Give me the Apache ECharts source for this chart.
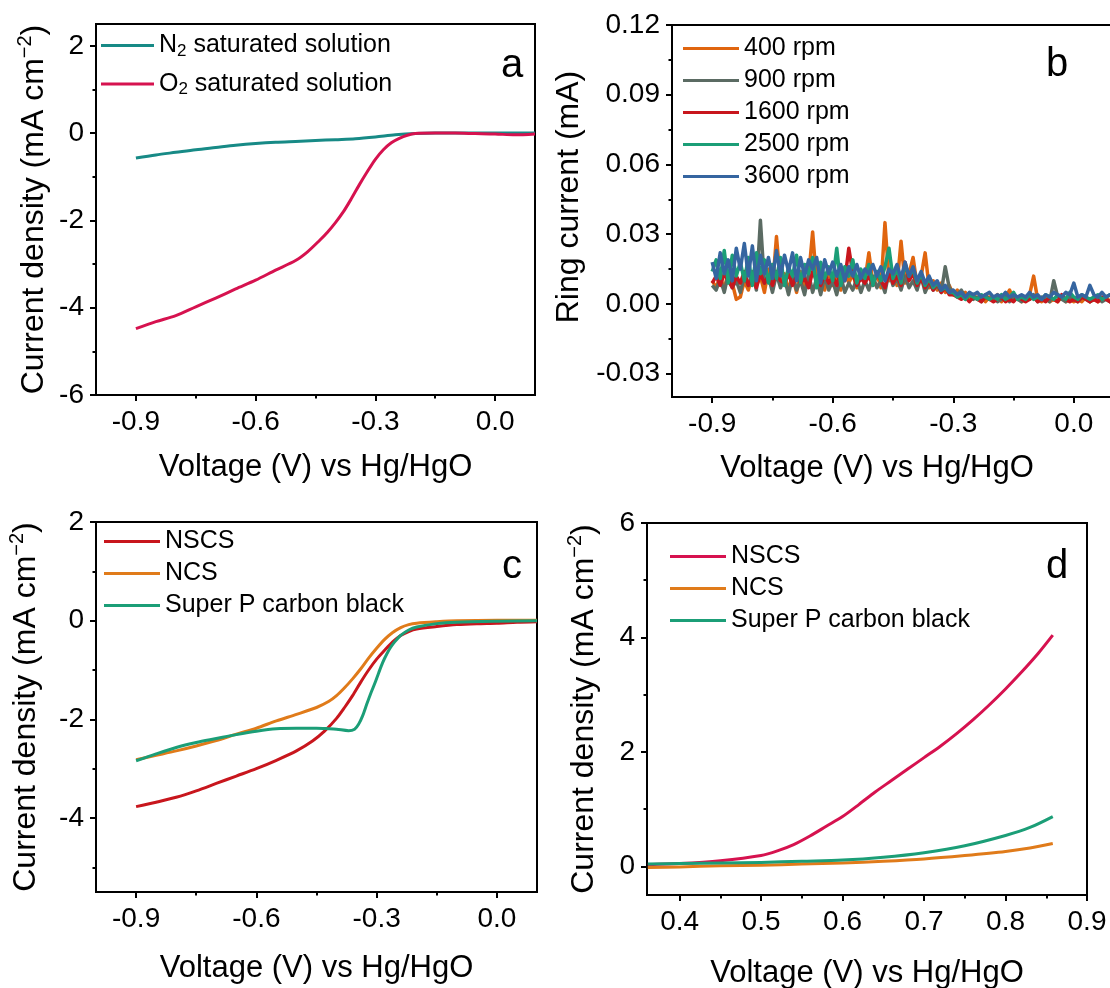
<!DOCTYPE html>
<html><head><meta charset="utf-8">
<script src="https://cdn.jsdelivr.net/npm/echarts@6/dist/echarts.min.js"></script>
<style>html,body{margin:0;padding:0;background:#fff}#c{width:1110px;height:988px}</style>
</head><body><div id="c"></div>
<script>
// ---------- Panel a ----------
const aN2X = [-0.9,-0.85,-0.8,-0.75,-0.7,-0.65,-0.6,-0.55,-0.5,-0.45,-0.4,-0.35,-0.3,-0.25,-0.2,-0.15,-0.1,-0.05,0,0.05,0.1];
const aN2Y = [-0.57,-0.5,-0.44,-0.38,-0.33,-0.28,-0.24,-0.21,-0.19,-0.17,-0.15,-0.13,-0.09,-0.04,-0.01,0,0,0,0,0,0];
const aO2X = [-0.9,-0.85,-0.8,-0.75,-0.7,-0.65,-0.6,-0.55,-0.5,-0.47,-0.44,-0.42,-0.4,-0.38,-0.36,-0.34,-0.32,-0.3,-0.28,-0.26,-0.24,-0.22,-0.2,-0.15,-0.1,-0.05,0,0.05,0.1];
const aO2Y = [-4.48,-4.32,-4.18,-3.98,-3.78,-3.57,-3.37,-3.14,-2.92,-2.72,-2.46,-2.27,-2.05,-1.8,-1.5,-1.18,-0.88,-0.6,-0.38,-0.22,-0.12,-0.05,-0.01,0,0,-0.01,-0.02,-0.04,-0.02];

// ---------- Panel b (ring current, mA) ----------
const bX = [-0.9,-0.89,-0.88,-0.87,-0.86,-0.85,-0.84,-0.83,-0.82,-0.81,
  -0.8,-0.79,-0.78,-0.77,-0.76,-0.75,-0.74,-0.73,-0.72,-0.71,
  -0.7,-0.69,-0.68,-0.67,-0.66,-0.65,-0.64,-0.63,-0.62,-0.61,
  -0.6,-0.59,-0.58,-0.57,-0.56,-0.55,-0.54,-0.53,-0.52,-0.51,
  -0.5,-0.49,-0.48,-0.47,-0.46,-0.45,-0.44,-0.43,-0.42,-0.41,
  -0.4,-0.39,-0.38,-0.37,-0.36,-0.35,-0.34,-0.33,-0.32,-0.31,
  -0.3,-0.29,-0.28,-0.27,-0.26,-0.25,-0.24,-0.23,-0.22,-0.21,
  -0.2,-0.19,-0.18,-0.17,-0.16,-0.15,-0.14,-0.13,-0.12,-0.11,
  -0.1,-0.09,-0.08,-0.07,-0.06,-0.05,-0.04,-0.03,-0.02,-0.01,
  0,0.01,0.02,0.03,0.04,0.05,0.06,0.07,0.08,0.09,0.1];
const b400 = [0.010,0.007,0.012,0.006,0.014,0.009,0.002,0.003,0.010,0.006,
  0.013,0.008,0.012,0.005,0.015,0.007,0.029,0.009,0.013,0.006,
  0.012,0.005,0.014,0.008,0.012,0.031,0.009,0.014,0.006,0.015,
  0.008,0.013,0.006,0.015,0.009,0.013,0.007,0.014,0.010,0.022,
  0.009,0.013,0.007,0.035,0.010,0.014,0.008,0.027,0.009,0.013,
  0.020,0.008,0.012,0.022,0.007,0.010,0.006,0.009,0.005,0.008,
  0.004,0.006,0.003,0.005,0.002,0.004,0.002,0.003,0.001,0.003,
  0.002,0.004,0.001,0.003,0.006,0.002,0.003,0.001,0.002,0.004,
  0.012,0.002,0.001,0.003,0.001,0.002,0.001,0.003,0.001,0.002,
  0.001,0.002,0.001,0.003,0.001,0.002,0.001,0.002,0.003,0.001,0.002];
const b900 = [0.008,0.006,0.011,0.005,0.013,0.007,0.010,0.005,0.012,0.008,
  0.014,0.006,0.036,0.009,0.012,0.005,0.013,0.007,0.011,0.004,
  0.012,0.006,0.010,0.004,0.013,0.005,0.011,0.004,0.012,0.006,
  0.010,0.004,0.012,0.005,0.009,0.006,0.011,0.005,0.010,0.006,
  0.012,0.007,0.010,0.005,0.014,0.008,0.011,0.006,0.012,0.007,
  0.010,0.006,0.012,0.005,0.009,0.006,0.008,0.005,0.016,0.007,
  0.005,0.004,0.006,0.003,0.004,0.002,0.003,0.001,0.004,0.002,
  0.003,0.001,0.002,0.004,0.001,0.003,0.002,0.001,0.003,0.002,
  0.004,0.001,0.003,0.002,0.001,0.010,0.003,0.002,0.001,0.003,
  0.002,0.001,0.003,0.002,0.001,0.002,0.003,0.001,0.002,0.001,0.002];
const b1600 = [0.009,0.012,0.008,0.013,0.010,0.007,0.012,0.009,0.014,0.008,
  0.011,0.007,0.013,0.009,0.012,0.008,0.014,0.010,0.009,0.013,
  0.008,0.012,0.009,0.011,0.007,0.014,0.010,0.008,0.013,0.009,
  0.012,0.008,0.014,0.010,0.024,0.013,0.008,0.011,0.009,0.012,
  0.008,0.013,0.010,0.007,0.014,0.009,0.012,0.008,0.018,0.010,
  0.013,0.008,0.011,0.007,0.010,0.006,0.009,0.005,0.007,0.004,
  0.004,0.003,0.002,0.003,0.001,0.003,0.002,0.001,0.003,0.002,
  0.001,0.002,0.003,0.001,0.002,0.001,0.003,0.002,0.001,0.002,
  0.003,0.001,0.002,0.001,0.003,0.002,0.001,0.004,0.002,0.001,
  0.002,0.001,0.003,0.002,0.001,0.002,0.001,0.003,0.002,0.001,0.002];
const b2500 = [0.014,0.019,0.011,0.023,0.009,0.021,0.012,0.018,0.010,0.020,
  0.008,0.022,0.013,0.019,0.009,0.017,0.011,0.020,0.008,0.016,
  0.012,0.021,0.009,0.017,0.013,0.020,0.007,0.018,0.011,0.016,
  0.010,0.024,0.008,0.016,0.012,0.019,0.009,0.015,0.011,0.017,
  0.008,0.014,0.010,0.016,0.024,0.011,0.015,0.009,0.017,0.012,
  0.015,0.009,0.013,0.008,0.011,0.007,0.009,0.006,0.007,0.005,
  0.005,0.003,0.004,0.002,0.004,0.003,0.002,0.004,0.003,0.002,
  0.003,0.002,0.004,0.002,0.003,0.005,0.002,0.003,0.002,0.004,
  0.002,0.003,0.002,0.004,0.003,0.002,0.004,0.003,0.002,0.005,
  0.003,0.002,0.004,0.003,0.002,0.003,0.004,0.002,0.003,0.004,0.002];
const b3600 = [0.018,0.011,0.022,0.013,0.019,0.010,0.024,0.015,0.026,0.012,
  0.025,0.010,0.021,0.013,0.020,0.011,0.023,0.012,0.021,0.014,
  0.022,0.010,0.020,0.012,0.019,0.015,0.020,0.009,0.019,0.013,
  0.018,0.012,0.017,0.010,0.016,0.012,0.017,0.011,0.015,0.013,
  0.017,0.012,0.016,0.010,0.015,0.013,0.017,0.011,0.018,0.012,
  0.016,0.010,0.014,0.009,0.012,0.008,0.010,0.006,0.008,0.005,
  0.006,0.004,0.005,0.003,0.005,0.004,0.005,0.003,0.004,0.005,
  0.003,0.004,0.003,0.005,0.003,0.004,0.003,0.004,0.003,0.005,
  0.003,0.004,0.002,0.004,0.003,0.005,0.004,0.003,0.005,0.004,
  0.009,0.003,0.004,0.003,0.008,0.004,0.003,0.005,0.003,0.004,0.003];

// ---------- Panel c ----------
const cNSCSX = [-0.9,-0.85,-0.8,-0.75,-0.7,-0.65,-0.6,-0.55,-0.5,-0.46,-0.43,-0.4,-0.38,-0.36,-0.34,-0.32,-0.3,-0.28,-0.26,-0.24,-0.22,-0.2,-0.15,-0.1,-0.05,0,0.05,0.1];
const cNSCSY = [-3.77,-3.68,-3.58,-3.45,-3.3,-3.15,-3.0,-2.83,-2.64,-2.44,-2.24,-1.98,-1.76,-1.52,-1.25,-1.0,-0.78,-0.6,-0.43,-0.3,-0.22,-0.17,-0.12,-0.08,-0.06,-0.05,-0.03,-0.02];
const cNCSX = [-0.9,-0.85,-0.8,-0.75,-0.7,-0.65,-0.6,-0.55,-0.5,-0.45,-0.42,-0.4,-0.38,-0.36,-0.34,-0.32,-0.3,-0.28,-0.26,-0.24,-0.22,-0.2,-0.15,-0.1,0,0.1];
const cNCSY = [-2.82,-2.73,-2.64,-2.54,-2.43,-2.3,-2.18,-2.03,-1.9,-1.76,-1.64,-1.52,-1.36,-1.18,-0.98,-0.76,-0.56,-0.38,-0.24,-0.14,-0.08,-0.05,-0.02,0,0.01,0.01];
const cSPX = [-0.9,-0.85,-0.8,-0.75,-0.7,-0.65,-0.6,-0.55,-0.5,-0.45,-0.42,-0.4,-0.37,-0.355,-0.345,-0.335,-0.325,-0.315,-0.305,-0.295,-0.285,-0.275,-0.265,-0.255,-0.24,-0.22,-0.2,-0.15,-0.1,0,0.1];
const cSPY = [-2.84,-2.7,-2.57,-2.47,-2.39,-2.31,-2.24,-2.19,-2.18,-2.18,-2.19,-2.2,-2.23,-2.2,-2.1,-1.93,-1.7,-1.48,-1.28,-1.06,-0.85,-0.68,-0.54,-0.43,-0.3,-0.19,-0.13,-0.06,-0.03,-0.01,0];

// ---------- Panel d ----------
const dNSCSX = [0.361,0.4,0.45,0.5,0.52,0.54,0.56,0.58,0.6,0.62,0.64,0.66,0.68,0.7,0.72,0.74,0.76,0.78,0.8,0.82,0.84,0.858];
const dNSCSY = [0.03,0.05,0.1,0.19,0.27,0.38,0.53,0.7,0.87,1.08,1.3,1.5,1.7,1.9,2.1,2.32,2.56,2.82,3.1,3.4,3.72,4.04];
const dNCSX = [0.361,0.4,0.45,0.5,0.55,0.6,0.65,0.7,0.75,0.8,0.83,0.858];
const dNCSY = [-0.02,-0.01,0.01,0.02,0.04,0.06,0.09,0.13,0.19,0.26,0.32,0.4];
const dSPX = [0.361,0.4,0.45,0.5,0.55,0.6,0.65,0.7,0.75,0.8,0.83,0.858];
const dSPY = [0.04,0.05,0.06,0.07,0.09,0.11,0.16,0.24,0.36,0.54,0.68,0.87];

// ---------- Tick labels ----------
const xTicksV = [-0.9,-0.6,-0.3,0];
const xMinorV = [-0.75,-0.45,-0.15];
const xTicksD = [0.4,0.5,0.6,0.7,0.8,0.9];
const xMinorD = [0.45,0.55,0.65,0.75,0.85];
const yTicksA = [-6,-4,-2,0,2];
const yMinorA = [-5,-3,-1,1];
const yTicksB = [-0.03,0,0.03,0.06,0.09,0.12];
const yMinorB = [-0.015,0.015,0.045,0.075,0.105];
const yTicksC = [-4,-2,0,2];
const yMinorC = [-5,-3,-1,1];
const yTicksD = [0,2,4,6];
const yMinorD = [1,3,5];

const FONT = '"Liberation Sans", Arial, Helvetica, sans-serif';
const zip = (xs, ys) => xs.map((x, i) => [x, ys[i]]);

function xAxisMain(g, min, max, ticks, fmt, gap, pad) {
  return {type:'value', gridIndex:g, min:min, max:max, position:'bottom',
    axisLine:{show:true, onZero:false, lineStyle:{color:'#000', width:2}},
    axisTick:{show:true, inside:false, length:6, lineStyle:{color:'#000', width:2}, customValues:ticks},
    axisLabel:{show:true, customValues:ticks, formatter:fmt, color:'#000', fontSize:28, fontFamily:FONT, margin:13},
    splitLine:{show:false}, minorTick:{show:false},
    name:'Voltage (V) vs Hg/HgO', nameLocation:'middle', nameGap:gap, nameMoveOverlap:false,
    nameTextStyle:{color:'#000', fontSize:31, fontFamily:FONT, padding:pad || 0}};
}
function yAxisMain(g, min, max, ticks, fmt, name, gap, pad) {
  return {type:'value', gridIndex:g, min:min, max:max, position:'left',
    axisLine:{show:true, onZero:false, lineStyle:{color:'#000', width:2}},
    axisTick:{show:true, inside:false, length:6, lineStyle:{color:'#000', width:2}, customValues:ticks},
    axisLabel:{show:true, customValues:ticks, formatter:fmt, color:'#000', fontSize:28, fontFamily:FONT, margin:12},
    splitLine:{show:false}, minorTick:{show:false},
    name:name, nameLocation:'middle', nameGap:gap, nameMoveOverlap:false,
    nameTextStyle:{color:'#000', fontSize:32, fontFamily:FONT, padding:pad || 0,
      rich:{t:{fontSize:32, fontFamily:FONT, color:'#000', lineHeight:38},
            s:{fontSize:20, fontFamily:FONT, color:'#000', lineHeight:23, verticalAlign:'top'}}}};
}
function minorAxis(g, min, max, ticks, pos) {
  return {type:'value', gridIndex:g, min:min, max:max, position:pos,
    axisLine:{show:false, onZero:false},
    axisTick:{show:true, inside:false, length:3.5, lineStyle:{color:'#000', width:2}, customValues:ticks},
    axisLabel:{show:false}, splitLine:{show:false}};
}
const fx = v => Number(v).toFixed(1);
const fi = v => String(Math.round(v));
const f2 = v => Number(v).toFixed(2);
const yNameCD = '{t|Current density (mA cm}{s|−2}{t|)}';

function line(name, xi, xs, ys, color, smooth, w) {
  return {type:'line', name:name, xAxisIndex:xi, yAxisIndex:xi, data:zip(xs, ys),
    showSymbol:false, symbol:'none', smooth:smooth, clip:true, animation:false,
    lineStyle:{color:color, width:w || 3, join:'round'}, itemStyle:{color:color}};
}
const gridBase = {show:true, borderColor:'#000', borderWidth:2, containLabel:false, outerBoundsMode:'none', backgroundColor:'transparent'};

const C = {
  n2:'#178a86', o2:'#d6124f',
  r400:'#e0650f', r900:'#5b6b63', r1600:'#c8161d', r2500:'#1b9e77', r3600:'#3565a0',
  nscsC:'#c8161d', ncs:'#e07b1a', sp:'#1b9e77', nscsD:'#d6124f'
};

const legendText = {
  'a-N2':'{t|N}{sub|2}{t| saturated solution}',
  'a-O2':'{t|O}{sub|2}{t| saturated solution}'
};
function legendFmt(name) {
  if (legendText[name]) return legendText[name];
  return '{t|' + name.replace(/^[a-d]-/, '') + '}';
}
function legendRich(fs, lh) {
  return {t:{fontSize:fs, fontFamily:FONT, color:'#000', lineHeight:lh},
          sub:{fontSize:17, fontFamily:FONT, color:'#000', lineHeight:14, verticalAlign:'bottom'}};
}
function legend(names, left, top, gap, itemW, lh) {
  return {orient:'vertical', left:left, top:top, itemGap:gap, padding:0, icon:'rect',
    itemWidth:itemW, itemHeight:3, data:names, formatter:legendFmt, selectedMode:false,
    textStyle:{fontSize:25, fontFamily:FONT, color:'#000', rich:legendRich(25, lh)}};
}

const option = {
  animation:false,
  backgroundColor:'#fff',
  grid:[
    Object.assign({left:96, top:24, width:439, height:371}, gridBase),
    Object.assign({left:672, top:25, width:442, height:372}, gridBase),
    Object.assign({left:96, top:522, width:441, height:370}, gridBase),
    Object.assign({left:647, top:523, width:440, height:372}, gridBase)
  ],
  xAxis:[
    xAxisMain(0, -1.0, 0.1, xTicksV, fx, 57),
    xAxisMain(1, -1.0, 0.1, xTicksV, fx, 56, [0, 32, 0, 0]),
    xAxisMain(2, -1.0, 0.1, xTicksV, fx, 61),
    xAxisMain(3, 0.36, 0.9, xTicksD, fx, 63),
    minorAxis(0, -1.0, 0.1, xMinorV, 'bottom'),
    minorAxis(1, -1.0, 0.1, xMinorV, 'bottom'),
    minorAxis(2, -1.0, 0.1, xMinorV, 'bottom'),
    minorAxis(3, 0.36, 0.9, xMinorD, 'bottom')
  ],
  yAxis:[
    yAxisMain(0, -6, 2.5, yTicksA, fi, yNameCD, 43),
    yAxisMain(1, -0.04, 0.12, yTicksB, f2, '{t|Ring current (mA)}', 84, [0, 0, 0, 28]),
    yAxisMain(2, -5.5, 2, yTicksC, fi, yNameCD, 51),
    yAxisMain(3, -0.5, 6, yTicksD, fi, yNameCD, 44),
    minorAxis(0, -6, 2.5, yMinorA, 'left'),
    minorAxis(1, -0.04, 0.12, yMinorB, 'left'),
    minorAxis(2, -5.5, 2, yMinorC, 'left'),
    minorAxis(3, -0.5, 6, yMinorD, 'left')
  ],
  legend:[
    legend(['a-N2','a-O2'], 101, 33, 12, 53, 28),
    legend(['b-400 rpm','b-900 rpm','b-1600 rpm','b-2500 rpm','b-3600 rpm'], 683, 36, 7, 56, 26),
    legend(['c-NSCS','c-NCS','c-Super P carbon black'], 104, 529, 7, 56, 26),
    legend(['d-NSCS','d-NCS','d-Super P carbon black'], 670, 544, 7, 56, 26)
  ],
  series:[
    line('a-N2', 0, aN2X, aN2Y, C.n2, 0.3),
    line('a-O2', 0, aO2X, aO2Y, C.o2, 0.3),
    line('b-400 rpm', 1, bX, b400, C.r400, false, 3.5),
    line('b-900 rpm', 1, bX, b900, C.r900, false, 3.5),
    line('b-1600 rpm', 1, bX, b1600, C.r1600, false, 3.5),
    line('b-2500 rpm', 1, bX, b2500, C.r2500, false, 3.5),
    line('b-3600 rpm', 1, bX, b3600, C.r3600, false, 3.5),
    line('c-NSCS', 2, cNSCSX, cNSCSY, C.nscsC, 0.3),
    line('c-NCS', 2, cNCSX, cNCSY, C.ncs, 0.3),
    line('c-Super P carbon black', 2, cSPX, cSPY, C.sp, 0.3),
    line('d-NSCS', 3, dNSCSX, dNSCSY, C.nscsD, 0.3),
    line('d-NCS', 3, dNCSX, dNCSY, C.ncs, 0.3),
    line('d-Super P carbon black', 3, dSPX, dSPY, C.sp, 0.3)
  ],
  graphic:[
    {type:'text', x:512, y:66, style:{text:'a', font:'40px ' + FONT, fill:'#000', textAlign:'center', textVerticalAlign:'middle'}},
    {type:'text', x:1057, y:65, style:{text:'b', font:'40px ' + FONT, fill:'#000', textAlign:'center', textVerticalAlign:'middle'}},
    {type:'text', x:512, y:567, style:{text:'c', font:'40px ' + FONT, fill:'#000', textAlign:'center', textVerticalAlign:'middle'}},
    {type:'text', x:1057, y:567, style:{text:'d', font:'40px ' + FONT, fill:'#000', textAlign:'center', textVerticalAlign:'middle'}}
  ]
};
const chart = echarts.init(document.getElementById('c'), null, {renderer:'canvas'});
chart.setOption(option);
</script>
</body></html>
